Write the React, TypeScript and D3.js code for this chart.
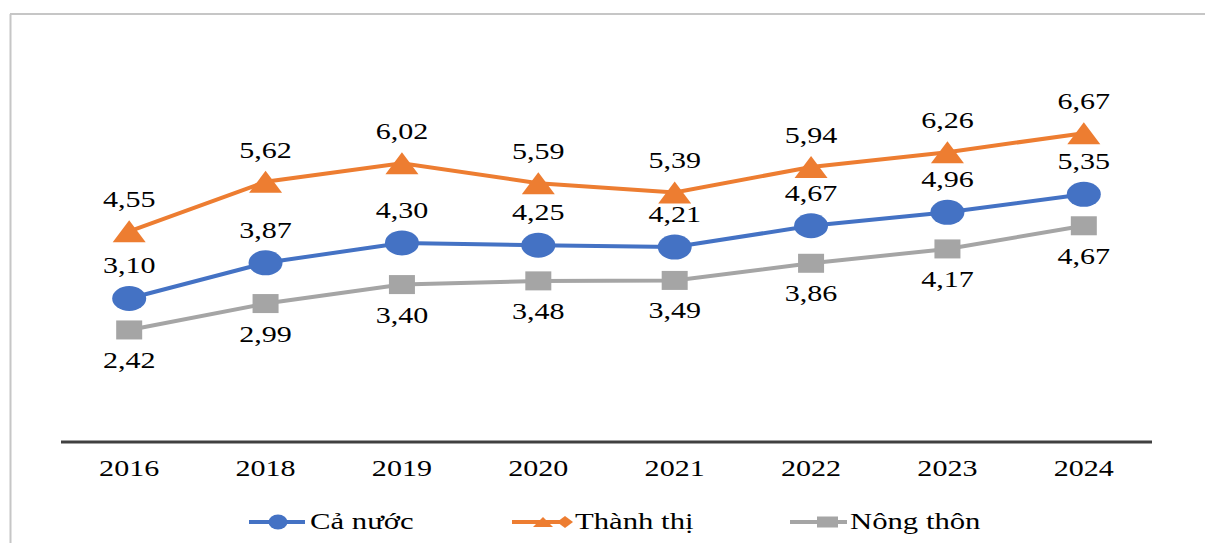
import React from "react";
import * as d3 from "d3";

const years = ["2016", "2018", "2019", "2020", "2021", "2022", "2023", "2024"];
const caNuoc = [3.10, 3.87, 4.30, 4.25, 4.21, 4.67, 4.96, 5.35];
const thanhThi = [4.55, 5.62, 6.02, 5.59, 5.39, 5.94, 6.26, 6.67];
const nongThon = [2.42, 2.99, 3.40, 3.48, 3.49, 3.86, 4.17, 4.67];

const BLUE = "#4472C4";
const ORANGE = "#ED7D31";
const GRAY = "#A5A5A5";
const FONT = "Liberation Serif, DejaVu Serif, serif";
const SX = 1.28;

const W = 1205, H = 543;
const x = d3.scaleBand<string>().domain(years).range([61, 1152]);
const y = d3.scaleLinear().domain([0, 8]).range([442, 71.6]);
const cx = (yr: string) => (x(yr) as number) + x.bandwidth() / 2;

type Kind = "circle" | "triangle" | "square";
const series: { name: string; values: number[]; color: string; kind: Kind; labelDy: number }[] = [
  { name: "Nông thôn", values: nongThon, color: GRAY, kind: "square", labelDy: 38 },
  { name: "Cả nước", values: caNuoc, color: BLUE, kind: "circle", labelDy: -25 },
  { name: "Thành thị", values: thanhThi, color: ORANGE, kind: "triangle", labelDy: -24 },
];

function Marker({ kind, px, py, color }: { kind: Kind; px: number; py: number; color: string }) {
  if (kind === "circle") return <ellipse cx={px} cy={py} rx={17} ry={12.5} fill={color} />;
  if (kind === "triangle") {
    const w = 16.5, h = 11;
    return <path d={`M${px},${py - h} L${px + w},${py + h} L${px - w},${py + h} Z`} fill={color} />;
  }
  return <rect x={px - 13} y={py - 9.5} width={26} height={19} fill={color} />;
}

function SText({ tx, ty, children, size = 23.5, anchor = "middle" }: any) {
  return (
    <text
      transform={`translate(${tx},${ty}) scale(${SX},1)`}
      textAnchor={anchor}
      style={{ fontFamily: FONT, fontSize: size }}
      fill="#000"
    >
      {children}
    </text>
  );
}

const fmt = (v: number) => v.toFixed(2).replace(".", ",");

export default function App() {
  const line = d3
    .line<number>()
    .x((_, i) => cx(years[i]))
    .y((v) => y(v));

  return (
    <svg width={W} height={H} style={{ position: "absolute", left: 0, top: 0, background: "#fff" }}>
      <rect x={0} y={0} width={W} height={H} fill="#fff" />
      <line x1={10} y1={14} x2={W} y2={14} stroke="#c6c6c6" strokeWidth={2} />
      <line x1={10.5} y1={14} x2={10.5} y2={H} stroke="#c6c6c6" strokeWidth={2} />

      <line x1={61} y1={y(0)} x2={1152} y2={y(0)} stroke="#404040" strokeWidth={3} />
      {years.map((yr) => (
        <SText key={yr} tx={cx(yr)} ty={476}>
          {yr}
        </SText>
      ))}

      {series.map((s) => (
        <g key={s.name}>
          <path d={line(s.values) || ""} fill="none" stroke={s.color} strokeWidth={4} />
          {s.values.map((v, i) => (
            <Marker key={i} kind={s.kind} px={cx(years[i])} py={y(v)} color={s.color} />
          ))}
        </g>
      ))}
      {series.map((s) =>
        s.values.map((v, i) => (
          <SText key={s.name + i} tx={cx(years[i])} ty={y(v) + s.labelDy}>
            {fmt(v)}
          </SText>
        ))
      )}

      <g>
        <line x1={249} y1={522} x2={305} y2={522} stroke={BLUE} strokeWidth={4} />
        <ellipse cx={278} cy={522} rx={9.5} ry={7.5} fill={BLUE} />
        <SText tx={310} ty={529} size={24} anchor="start">Cả nước</SText>

        <line x1={512} y1={522} x2={570} y2={522} stroke={ORANGE} strokeWidth={4} />
        <path d="M543,517 L553,527 L533,527 Z" fill={ORANGE} />
        <path d="M565,516 L573,522 L565,528 L557,522 Z" fill={ORANGE} />
        <SText tx={575} ty={529} size={24} anchor="start">Thành thị</SText>

        <line x1={790} y1={522} x2={847} y2={522} stroke={GRAY} strokeWidth={4} />
        <rect x={817} y={516.5} width={21} height={11} fill={GRAY} />
        <SText tx={850} ty={529} size={24} anchor="start">Nông thôn</SText>
      </g>
    </svg>
  );
}
